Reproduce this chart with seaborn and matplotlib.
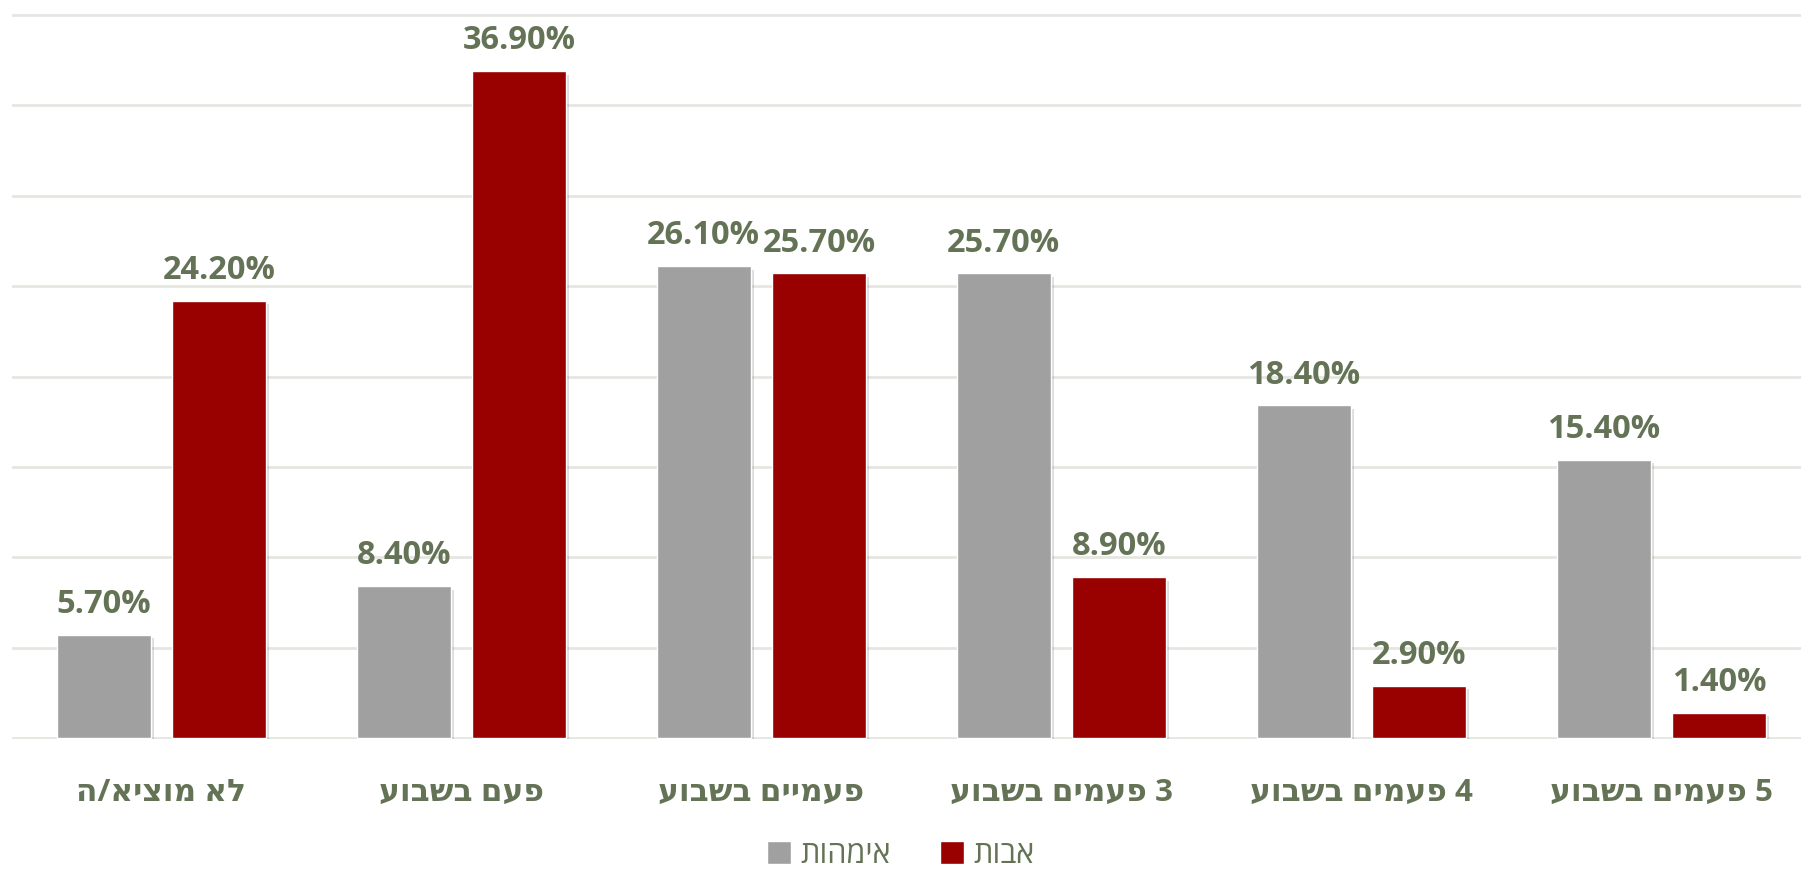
import matplotlib
matplotlib.use("Agg")
import matplotlib.pyplot as plt
import matplotlib.patheffects as pe
import pandas as pd
import seaborn as sns

# data (logical Hebrew order, left to right as drawn)
categories = ["לא מוציא/ה", "פעם בשבוע", "פעמיים בשבוע",
              "3 פעמים בשבוע", "4 פעמים בשבוע", "5 פעמים בשבוע"]
mothers = [5.7, 8.4, 26.1, 25.7, 18.4, 15.4]
fathers = [24.2, 36.9, 25.7, 8.9, 2.9, 1.4]
series_names = ["אימהות", "אבות"]
colors = ["#A0A0A0", "#990000"]
text_color = "#647355"


def rtl(s):
    # matplotlib has no bidi support, so flip the Hebrew strings for display
    return s[::-1]


df = pd.DataFrame({
    "cat": [rtl(c) for c in categories] * 2,
    "val": mothers + fathers,
    "who": [rtl(series_names[0])] * len(mothers) + [rtl(series_names[1])] * len(fathers),
})

sns.set_theme(style="white")
plt.rcParams["font.family"] = ["Open Sans", "DejaVu Sans"]

fig = plt.figure(figsize=(18.01, 8.72), dpi=100)
ax = fig.add_axes([11.5 / 1801, 133 / 872, 1800 / 1801, 725 / 872])

sns.barplot(data=df, x="cat", y="val", hue="who", palette=colors,
            width=0.77, gap=0.19, ax=ax, legend=True, saturation=1)

for cont in ax.containers:
    ax.bar_label(cont, fmt="%.2f%%", padding=10, fontsize=23.5, fontweight="bold",
                 color=text_color)

ax.set_ylim(-0.06, 40.06)
ax.set_xlim(-0.5, 5.5)
ax.set_yticks([0, 5, 10, 15, 20, 25, 30, 35, 40])
ax.set_yticklabels([])
ax.yaxis.grid(True, color="#E6E6E1", linewidth=2)
ax.set_axisbelow(True)
ax.tick_params(axis="x", length=0, pad=28, labelsize=22.5, labelcolor=text_color)
for t in ax.get_xticklabels():
    t.set_fontweight("bold")
ax.set_xlabel("")
ax.set_ylabel("")
sns.despine(ax=ax, left=True, bottom=True, top=True, right=True)

ax.legend(ncol=2, loc="center", bbox_to_anchor=(0.5, 17 / 872),
          bbox_transform=fig.transFigure, frameon=False, fontsize=22,
          labelcolor=text_color, handlelength=0.8, handleheight=0.8,
          handletextpad=0.3, columnspacing=1.6, title=None)

# soft drop shadow on the bars, like the original
for p in ax.patches:
    p.set_path_effects([pe.SimplePatchShadow(offset=(2.5, -2.5), alpha=0.18, shadow_rgbFace="#444444"),
                        pe.Normal()])

fig.savefig("out.png", dpi=100)
